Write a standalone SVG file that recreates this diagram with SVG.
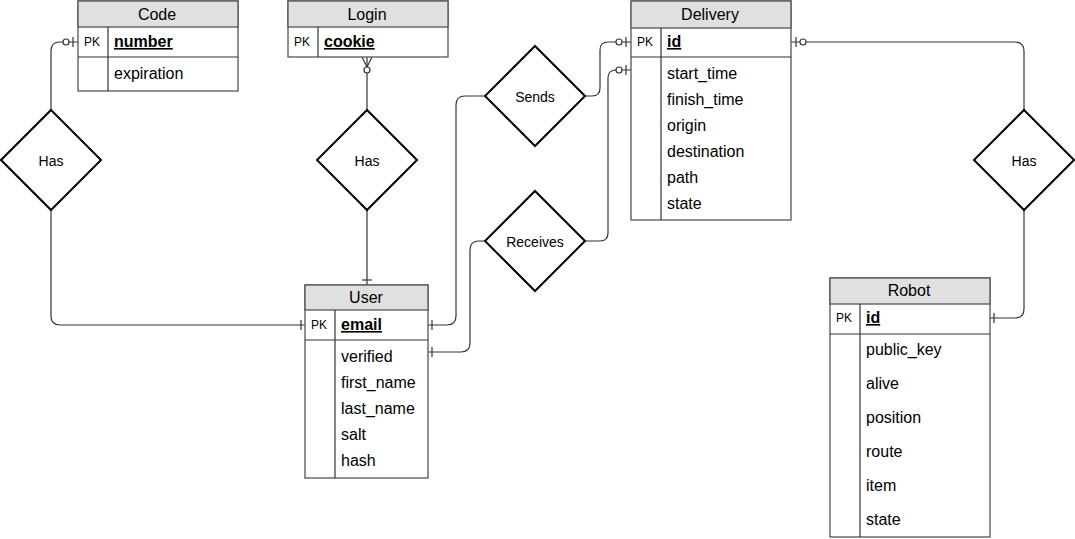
<svg xmlns="http://www.w3.org/2000/svg" width="1075" height="539" viewBox="0 0 1075 539">
<style>
  text { font-family: "Liberation Sans", Arial, sans-serif; fill: #000; }
  .tbl { fill: #fff; stroke: #555; stroke-width: 1.3; }
  .hdr { fill: #e0e0e0; stroke: #555; stroke-width: 1.3; }
  .sep { stroke: #333; stroke-width: 1.2; fill: none; }
  .title { font-size: 16px; text-anchor: middle; }
  .pk { font-size: 12px; }
  .key { font-size: 16px; font-weight: bold; text-decoration: underline; }
  .attr { font-size: 16px; }
  .dia { fill: #fff; stroke: #000; stroke-width: 2; }
  .rel { font-size: 14px; text-anchor: middle; }
  .edge { fill: none; stroke: #333; stroke-width: 1.2; }
  .circ { fill: #fff; stroke: #333; stroke-width: 1.2; }
</style>

<g id="edges">
  <!-- Code to Has -->
  <path class="edge" d="M78,42 H60 Q51,42 51,51 V110"/>
  <line class="edge" x1="73" y1="37" x2="73" y2="47"/>
  <circle class="circ" cx="66" cy="42" r="3"/>
  <!-- Has to User -->
  <path class="edge" d="M51,210 V316 Q51,325 60,325 H305"/>
  <line class="edge" x1="301" y1="320" x2="301" y2="330"/>
  <!-- Login to Has -->
  <path class="edge" d="M367,57 V110"/>
  <path class="edge" d="M362,57 L367,67 L372,57"/>
  <circle class="circ" cx="367" cy="70" r="3"/>
  <!-- Has to User top -->
  <path class="edge" d="M367,210 V285"/>
  <line class="edge" x1="362" y1="280" x2="372" y2="280"/>
  <!-- User to Sends -->
  <path class="edge" d="M428,325 H447 Q456,325 456,316 V105 Q456,96 465,96 H485"/>
  <line class="edge" x1="432" y1="320" x2="432" y2="330"/>
  <!-- Sends to Delivery id -->
  <path class="edge" d="M585,96 H592 Q600,96 600,88 V50 Q600,42 608,42 H631"/>
  <line class="edge" x1="626" y1="37" x2="626" y2="47"/>
  <circle class="circ" cx="619" cy="42" r="3"/>
  <!-- User to Receives -->
  <path class="edge" d="M428,352 H461 Q470,352 470,343 V250 Q470,241 479,241 H485"/>
  <line class="edge" x1="432" y1="347" x2="432" y2="357"/>
  <!-- Receives to Delivery -->
  <path class="edge" d="M585,241 H600 Q608,241 608,233 V78 Q608,70 616,70 H631"/>
  <line class="edge" x1="626" y1="65" x2="626" y2="75"/>
  <circle class="circ" cx="619" cy="70" r="3"/>
  <!-- Delivery to Has -->
  <path class="edge" d="M791,42 H1015 Q1024,42 1024,51 V110"/>
  <line class="edge" x1="796" y1="37" x2="796" y2="47"/>
  <circle class="circ" cx="803" cy="42" r="3"/>
  <!-- Has to Robot -->
  <path class="edge" d="M1024,210 V309 Q1024,318 1015,318 H990"/>
  <line class="edge" x1="994" y1="313" x2="994" y2="323"/>
</g>

<g id="code">
  <rect class="tbl" x="78" y="1" width="160" height="90"/>
  <rect class="hdr" x="78" y="1" width="160" height="26"/>
  <line class="sep" x1="78" y1="57" x2="238" y2="57"/>
  <line class="sep" x1="108" y1="27" x2="108" y2="91"/>
  <text class="title" x="157" y="20">Code</text>
  <text class="pk" x="84" y="46">PK</text>
  <text class="key" x="114" y="47">number</text>
  <text class="attr" x="114" y="79">expiration</text>
</g>

<g id="login">
  <rect class="tbl" x="288" y="1" width="160" height="56"/>
  <rect class="hdr" x="288" y="1" width="160" height="26"/>
  <line class="sep" x1="318" y1="27" x2="318" y2="57"/>
  <text class="title" x="367" y="20">Login</text>
  <text class="pk" x="294" y="46">PK</text>
  <text class="key" x="324" y="47">cookie</text>
</g>

<g id="delivery">
  <rect class="tbl" x="631" y="1" width="160" height="219"/>
  <rect class="hdr" x="631" y="1" width="160" height="27"/>
  <line class="sep" x1="631" y1="57" x2="791" y2="57"/>
  <line class="sep" x1="661" y1="28" x2="661" y2="220"/>
  <text class="title" x="710" y="20">Delivery</text>
  <text class="pk" x="637" y="46">PK</text>
  <text class="key" x="667" y="47">id</text>
  <text class="attr" x="667" y="79">start_time</text>
  <text class="attr" x="667" y="105">finish_time</text>
  <text class="attr" x="667" y="131">origin</text>
  <text class="attr" x="667" y="157">destination</text>
  <text class="attr" x="667" y="183">path</text>
  <text class="attr" x="667" y="209">state</text>
</g>

<g id="user">
  <rect class="tbl" x="305" y="285" width="123" height="193"/>
  <rect class="hdr" x="305" y="285" width="123" height="25"/>
  <line class="sep" x1="305" y1="340" x2="428" y2="340"/>
  <line class="sep" x1="335" y1="310" x2="335" y2="478"/>
  <text class="title" x="366" y="303">User</text>
  <text class="pk" x="311" y="329">PK</text>
  <text class="key" x="341" y="330">email</text>
  <text class="attr" x="341" y="362">verified</text>
  <text class="attr" x="341" y="388">first_name</text>
  <text class="attr" x="341" y="414">last_name</text>
  <text class="attr" x="341" y="440">salt</text>
  <text class="attr" x="341" y="466">hash</text>
</g>

<g id="robot">
  <rect class="tbl" x="830" y="278" width="160" height="259"/>
  <rect class="hdr" x="830" y="278" width="160" height="26"/>
  <line class="sep" x1="830" y1="334" x2="990" y2="334"/>
  <line class="sep" x1="860" y1="304" x2="860" y2="537"/>
  <text class="title" x="909" y="296">Robot</text>
  <text class="pk" x="836" y="322">PK</text>
  <text class="key" x="866" y="323">id</text>
  <text class="attr" x="866" y="355">public_key</text>
  <text class="attr" x="866" y="389">alive</text>
  <text class="attr" x="866" y="423">position</text>
  <text class="attr" x="866" y="457">route</text>
  <text class="attr" x="866" y="491">item</text>
  <text class="attr" x="866" y="525">state</text>
</g>

<g id="has-code">
  <polygon class="dia" points="51,110 101,160 51,210 1,160"/>
  <text class="rel" x="51" y="166">Has</text>
</g>
<g id="has-login">
  <polygon class="dia" points="367,110 417,160 367,210 317,160"/>
  <text class="rel" x="367" y="166">Has</text>
</g>
<g id="sends">
  <polygon class="dia" points="535,46 585,96 535,146 485,96"/>
  <text class="rel" x="535" y="102">Sends</text>
</g>
<g id="receives">
  <polygon class="dia" points="535,191 585,241 535,291 485,241"/>
  <text class="rel" x="535" y="247">Receives</text>
</g>
<g id="has-robot">
  <polygon class="dia" points="1024,110 1074,160 1024,210 974,160"/>
  <text class="rel" x="1024" y="166">Has</text>
</g>
</svg>
